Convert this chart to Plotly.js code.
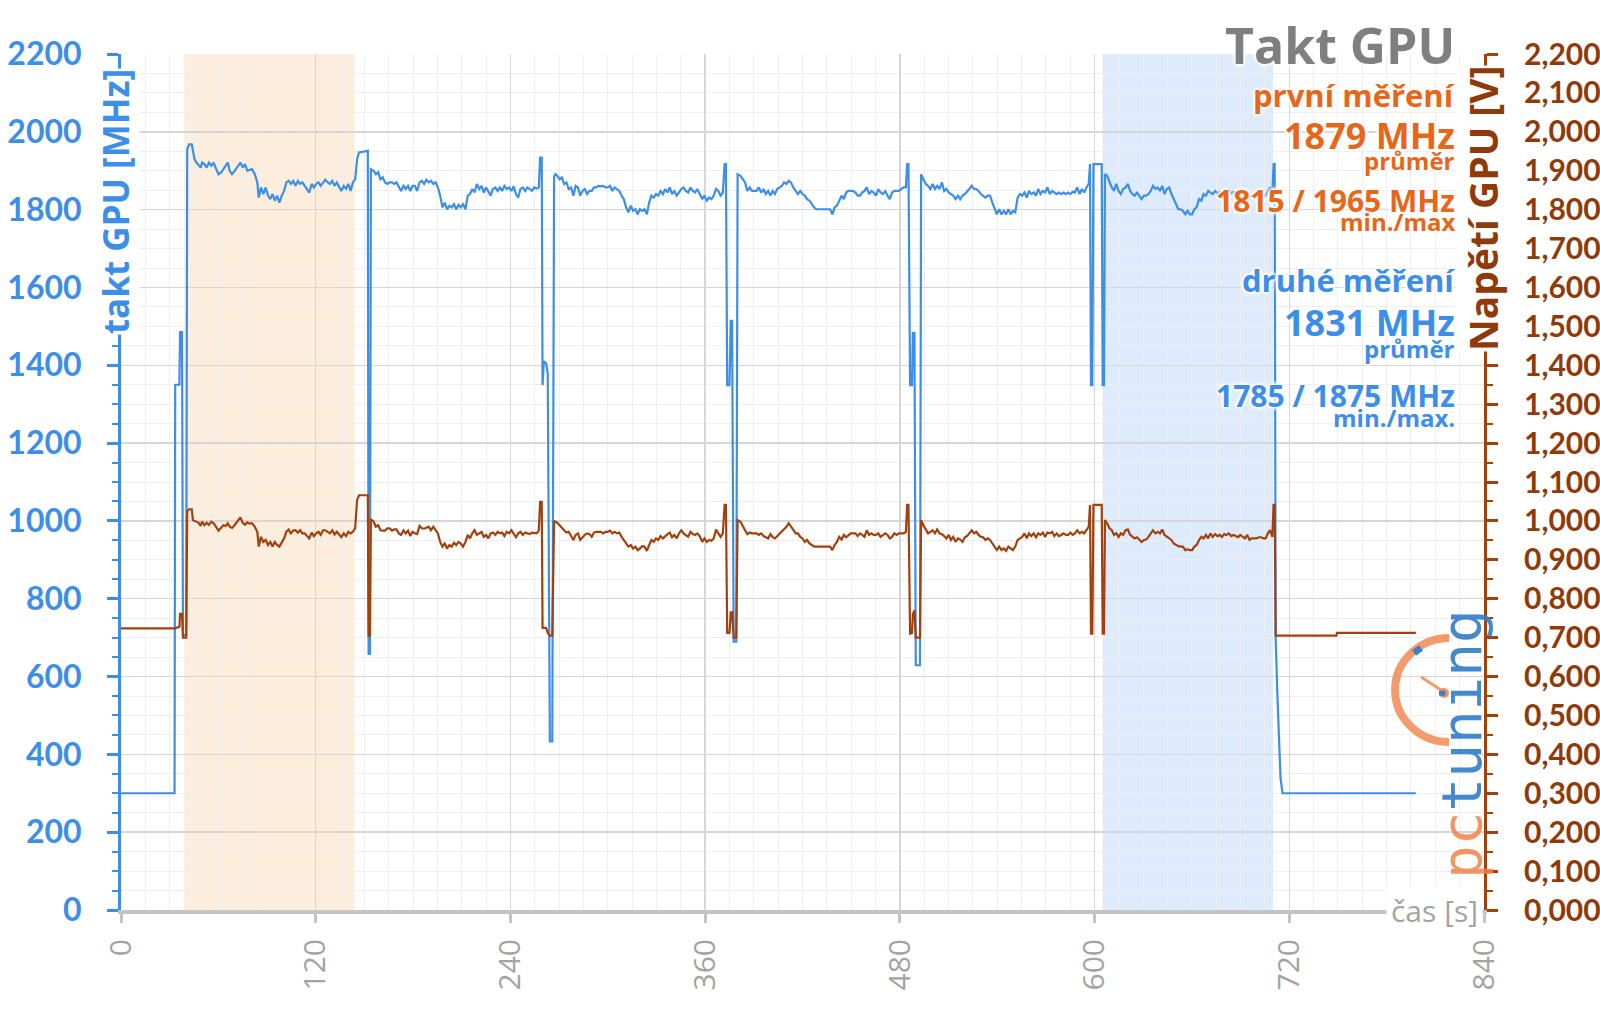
<!DOCTYPE html>
<html>
<head>
<meta charset="utf-8">
<script src="https://cdn.plot.ly/plotly-3.0.1.min.js"></script>
<style>
  html, body { margin: 0; padding: 0; background: #fff; }
  #graf { width: 1600px; height: 1009px; }
</style>
</head>
<body>
<div id="graf"></div>
<script>
// cas [s], takt GPU [MHz], napeti GPU [V]
var casS = [
  0, 33, 33.4, 36, 36.4, 37.6, 38.2, 40.2, 40.8, 42, 43.6,
  44.3, 45.3, 46.5, 47.9, 49.1, 50.0, 51.4, 52.8, 54.2, 55.7, 57.1, 58.5, 60.1, 61.8, 63.2, 64.6, 65.8, 67.0, 68.4, 69.6,
  70.8, 72.2, 73.6, 75.0, 76.4, 77.8, 79.2, 80.7, 82.5, 84.0, 84.9, 86.3, 87.7, 89.2, 90.6, 92.0, 93.4, 94.8, 96.2, 97.6,
  99.1, 100.5, 101.9, 103.3, 104.7, 106.1, 107.5, 109.0, 110.4, 111.8, 113.2, 114.6, 116.0, 117.5, 118.9, 120.3, 121.7,
  123.1, 124.5, 125.9, 127.4, 128.8, 130.2, 131.6, 133.0, 134.4, 135.8, 137.3, 138.7, 140.1, 141.5, 142.9, 144.3, 145.5,
  146.7, 152.1, 152.6, 153.4, 154.0,
  155.7, 157.1, 158.5, 159.9, 161.3, 162.7, 164.2, 165.6, 167.0, 168.4, 169.8, 171.2, 172.6, 174.1, 175.5, 176.9, 178.3,
  179.7, 181.1, 182.5, 184.0, 185.4, 186.8, 188.2, 189.6, 191.0, 192.5, 193.9, 195.3, 196.7, 198.1, 199.5, 200.9, 202.4,
  203.8, 205.2, 206.6, 208.0, 209.4, 210.8, 212.3, 213.7, 215.1, 216.5, 217.9, 219.3, 220.8, 222.2, 223.6, 225.0, 226.4,
  227.8, 229.2, 230.7, 232.1, 233.5, 234.9, 236.3, 237.7, 239.2, 240.6, 242.0, 243.4, 244.8, 246.2, 247.6, 249.1, 250.5,
  251.9, 253.3, 254.7, 256.1, 257.5,
  258.3, 259.3, 259.8, 260.6, 262.0, 263.0, 264.3, 265.8, 266.9,
  267.7, 268.9, 270.3, 271.7, 273.1, 274.5, 275.9, 277.4, 278.8, 280.2, 281.6, 283.0, 284.4, 285.8, 287.3, 288.7, 290.1,
  291.5, 292.9, 294.3, 295.8, 297.2, 298.6, 300.0, 301.4, 302.8, 304.2, 305.7, 307.1, 308.5, 309.9, 311.3, 312.7, 314.2,
  315.6, 317.0, 318.4, 319.8, 321.2, 322.6, 324.1, 325.5, 326.9, 328.3, 329.7, 331.1, 332.5, 334.0, 335.4, 336.8, 338.2,
  339.6, 341.0, 342.5, 343.9, 345.3, 346.7, 348.1, 349.5, 350.9, 352.4, 353.8, 355.2, 356.6, 358.2, 359.6, 361.0, 362.5,
  363.9, 365.3, 366.7, 368.1, 369.5, 370.9,
  372.0, 372.8, 373.6, 375.0, 375.8, 376.6, 377.6, 379.2, 380.0,
  381.8, 383.2, 384.6, 386.0, 387.5, 388.9, 390.3, 391.7, 393.1, 394.5, 396.0, 397.4, 398.8, 400.2, 401.6, 403.0, 404.4,
  405.9, 407.3, 408.7, 410.1, 411.5, 412.9, 414.3, 415.8, 417.2, 418.6, 420.0, 421.4, 422.8, 424.3, 425.7, 427.1, 428.5,
  437.0, 438.4, 439.8, 441.2, 442.6, 444.1, 445.5, 446.9, 448.3, 449.7, 451.1, 452.6, 454.0, 455.4, 456.8, 458.2, 459.6,
  461.0, 462.5, 463.9, 465.3, 466.7, 468.1, 469.5, 471.0, 472.4, 473.8, 475.2, 476.6, 478.0, 479.4, 480.9, 482.3, 483.7,
  484.5, 485.3, 486.3, 487.5, 488.0, 489.0, 489.8, 492.4, 493.1,
  494.5, 496.0, 497.4, 498.8, 500.2, 501.6, 503.0, 504.4, 505.9, 507.3, 508.7, 510.1, 511.5, 512.9, 514.3, 515.8, 517.2,
  518.6, 520.0, 521.4, 522.8, 524.3, 525.7, 527.1, 528.5, 529.9, 531.3, 532.7, 534.2, 535.6, 537.0, 538.4, 539.8, 541.2,
  542.6, 544.1, 545.5, 546.9, 548.3, 549.7, 551.1, 552.6, 554.0, 555.4, 556.8, 558.2, 559.6, 561.0, 562.5, 563.9, 565.3,
  566.7, 568.1, 569.5, 570.9, 572.4, 573.8, 575.2, 576.6, 578.0, 579.4, 580.9, 582.3, 583.7, 585.1, 586.5, 587.9, 589.3,
  590.8, 592.2, 593.6, 595.0, 596.4,
  597.2, 597.8, 598.6, 599.3, 604.4, 605.0, 605.8, 606.4,
  607.7, 609.2, 610.6, 612.0, 613.4, 614.8, 616.2, 617.6, 619.1, 620.5, 621.9, 623.3, 624.7, 626.1, 627.6, 629.0, 630.4,
  631.8, 633.2, 634.6, 636.0, 637.5, 638.9, 640.3, 641.7, 643.1, 644.5, 646.0, 647.4, 648.8, 650.2, 651.6, 653.0, 654.4,
  655.9, 657.3, 658.7, 660.1, 661.5, 662.9, 664.4, 665.8, 667.2, 668.6, 670.0, 671.4, 672.8, 674.3, 675.7, 677.1, 678.5,
  679.9, 681.3, 682.7, 684.2, 685.6, 687.0, 688.4, 689.8, 691.2, 692.7, 694.1, 695.5, 696.9, 698.3, 699.7, 701.1, 702.6,
  704.0, 705.4, 706.8, 708.2, 709.6,
  710.3, 711.0, 711.6, 712.6, 713.6, 714.6, 715.8, 749.0, 749.4, 798.0
];

var taktMHz = [
  300, 300, 1350, 1350, 1485, 1485, 707, 707, 1955, 1968, 1968,
  1947, 1930, 1921, 1914, 1908, 1921, 1917, 1908, 1921, 1913, 1921, 1906, 1891, 1896, 1904, 1913, 1921, 1900, 1891, 1897,
  1904, 1914, 1921, 1908, 1917, 1900, 1902, 1904, 1891, 1870, 1831, 1857, 1840, 1857, 1836, 1827, 1840, 1823, 1836, 1818,
  1836, 1848, 1870, 1874, 1866, 1874, 1861, 1874, 1866, 1870, 1861, 1853, 1844, 1866, 1857, 1866, 1870,
  1861, 1870, 1877, 1870, 1866, 1874, 1861, 1870, 1857, 1848, 1861, 1854, 1866, 1848, 1870, 1878, 1930,
  1947, 1951, 658, 658, 1904,
  1900, 1891, 1896, 1878, 1883, 1870, 1866, 1870, 1870, 1866, 1870, 1857, 1848, 1861, 1853, 1861, 1848,
  1861, 1861, 1848, 1870, 1874, 1866, 1877, 1870, 1874, 1866, 1870, 1857, 1836, 1806, 1818, 1801, 1810,
  1806, 1814, 1801, 1812, 1806, 1814, 1801, 1836, 1840, 1853, 1844, 1866, 1853, 1861, 1844, 1857, 1848,
  1836, 1853, 1857, 1848, 1857, 1848, 1861, 1853, 1857, 1848, 1860, 1840, 1831, 1853, 1857, 1848, 1857,
  1853, 1848, 1857, 1854, 1857,
  1934, 1934, 1349, 1410, 1405, 1380, 433, 433, 1885,
  1891, 1887, 1878, 1883, 1866, 1870, 1853, 1857, 1836, 1861, 1857, 1836, 1848, 1853, 1840, 1848, 1848,
  1857, 1857, 1861, 1860, 1861, 1857, 1857, 1861, 1848, 1857, 1853, 1848, 1836, 1827, 1806, 1793, 1810,
  1797, 1801, 1788, 1801, 1797, 1801, 1788, 1818, 1836, 1831, 1840, 1836, 1848, 1840, 1853, 1844, 1857,
  1840, 1848, 1836, 1844, 1853, 1857, 1848, 1844, 1857, 1848, 1844, 1853, 1840, 1827, 1836, 1823, 1831,
  1827, 1836, 1853, 1848, 1836, 1844,
  1917, 1917, 1349, 1349, 1514, 1514, 690, 690, 1891,
  1887, 1878, 1870, 1848, 1857, 1848, 1848, 1848, 1857, 1844, 1853, 1840, 1848, 1836, 1848, 1840, 1853,
  1857, 1861, 1870, 1866, 1874, 1870, 1857, 1848, 1840, 1848, 1840, 1836, 1827, 1823, 1814, 1806, 1801,
  1801, 1788, 1806, 1810, 1823, 1836, 1827, 1844, 1848, 1848, 1848, 1844, 1836, 1836, 1844, 1848, 1857,
  1840, 1848, 1844, 1836, 1853, 1844, 1840, 1848, 1836, 1827, 1844, 1848, 1848, 1848, 1853, 1857, 1857,
  1917, 1917, 1349, 1349, 1483, 1483, 629, 629, 1891,
  1878, 1866, 1861, 1853, 1866, 1853, 1861, 1853, 1870, 1848, 1853, 1844, 1840, 1836, 1827, 1836, 1827,
  1836, 1840, 1848, 1853, 1861, 1853, 1853, 1848, 1840, 1836, 1831, 1836, 1836, 1818, 1801, 1788, 1801,
  1788, 1797, 1788, 1801, 1788, 1797, 1793, 1831, 1840, 1836, 1844, 1831, 1848, 1840, 1844, 1836, 1853,
  1840, 1848, 1844, 1857, 1840, 1848, 1844, 1840, 1844, 1840, 1844, 1840, 1844, 1840, 1846, 1844, 1857,
  1840, 1853, 1844, 1857, 1866,
  1917, 1349, 1349, 1917, 1917, 1349, 1349, 1891,
  1887, 1870, 1857, 1848, 1866, 1848, 1840, 1853, 1857, 1866, 1848, 1840, 1836, 1844, 1836, 1827, 1836,
  1836, 1840, 1848, 1861, 1853, 1857, 1848, 1861, 1840, 1853, 1857, 1840, 1827, 1818, 1801, 1801, 1797,
  1788, 1797, 1788, 1788, 1801, 1806, 1827, 1823, 1840, 1836, 1848, 1844, 1840, 1848, 1842, 1846, 1840,
  1848, 1846, 1850, 1842, 1846, 1842, 1838, 1846, 1840, 1836, 1846, 1832, 1836, 1836, 1836, 1840, 1840,
  1836, 1836, 1848, 1857, 1840,
  1917, 1917, 700, 560, 420, 340, 300, 300, 300, 300
];

var napetiV = [
  0.724, 0.724, 0.724, 0.728, 0.761, 0.761, 0.700, 0.700, 1.025, 1.030, 1.030,
  1.002, 1.000, 0.998, 0.995, 0.987, 0.998, 0.989, 0.995, 0.990, 0.998, 0.994, 0.985, 0.975, 0.983, 0.989, 0.987, 0.994, 0.985, 0.982, 0.987,
  0.993, 1.003, 1.009, 0.995, 0.990, 0.996, 0.993, 0.994, 0.985, 0.972, 0.934, 0.959, 0.946, 0.951, 0.938, 0.946, 0.934, 0.946, 0.938, 0.934,
  0.946, 0.955, 0.972, 0.978, 0.968, 0.975, 0.976, 0.970, 0.976, 0.968, 0.968, 0.961, 0.955, 0.970, 0.961, 0.968, 0.972,
  0.964, 0.976, 0.976, 0.972, 0.968, 0.976, 0.965, 0.972, 0.964, 0.958, 0.968, 0.961, 0.972, 0.968, 0.972, 0.981, 1.054,
  1.066, 1.066, 0.705, 0.705, 1.004,
  0.998, 0.985, 0.989, 0.976, 0.975, 0.975, 0.981, 0.981, 0.975, 0.978, 0.978, 0.968, 0.964, 0.976, 0.968, 0.975, 0.961,
  0.972, 0.968, 0.966, 0.987, 0.981, 0.980, 0.983, 0.985, 0.976, 0.985, 0.976, 0.968, 0.946, 0.934, 0.942, 0.929, 0.938,
  0.934, 0.944, 0.938, 0.946, 0.942, 0.934, 0.946, 0.964, 0.955, 0.968, 0.976, 0.964, 0.968, 0.972, 0.959, 0.964, 0.955,
  0.968, 0.970, 0.964, 0.972, 0.968, 0.970, 0.961, 0.972, 0.968, 0.976, 0.966, 0.958, 0.968, 0.972, 0.964, 0.970, 0.968,
  0.966, 0.970, 0.968, 0.968, 0.975,
  1.049, 1.049, 0.725, 0.725, 0.725, 0.712, 0.705, 0.705, 1.000,
  0.998, 0.995, 0.989, 0.981, 0.976, 0.970, 0.972, 0.961, 0.951, 0.964, 0.968, 0.951, 0.959, 0.964, 0.968, 0.966, 0.959,
  0.970, 0.972, 0.972, 0.972, 0.968, 0.972, 0.972, 0.975, 0.968, 0.972, 0.968, 0.970, 0.959, 0.951, 0.942, 0.934, 0.938,
  0.929, 0.934, 0.925, 0.929, 0.935, 0.934, 0.923, 0.938, 0.951, 0.946, 0.955, 0.951, 0.961, 0.955, 0.961, 0.966, 0.970,
  0.958, 0.964, 0.955, 0.968, 0.976, 0.968, 0.964, 0.959, 0.972, 0.966, 0.964, 0.968, 0.961, 0.946, 0.955, 0.946, 0.951,
  0.949, 0.955, 0.978, 0.968, 0.959, 0.968,
  1.041, 1.041, 0.712, 0.712, 0.765, 0.765, 0.700, 0.700, 1.002,
  0.998, 0.985, 0.976, 0.966, 0.970, 0.968, 0.968, 0.968, 0.964, 0.968, 0.961, 0.959, 0.955, 0.966, 0.958, 0.955, 0.961,
  0.968, 0.975, 0.981, 0.985, 0.994, 0.985, 0.976, 0.968, 0.968, 0.959, 0.955, 0.946, 0.951, 0.942, 0.938, 0.934, 0.934,
  0.934, 0.925, 0.938, 0.946, 0.959, 0.952, 0.964, 0.958, 0.964, 0.968, 0.968, 0.968, 0.961, 0.968, 0.964, 0.959, 0.976,
  0.964, 0.968, 0.964, 0.964, 0.968, 0.959, 0.964, 0.968, 0.964, 0.955, 0.959, 0.968, 0.964, 0.968, 0.968, 0.968, 0.972,
  1.041, 1.041, 0.710, 0.712, 0.760, 0.770, 0.700, 0.700, 1.002,
  0.989, 0.976, 0.968, 0.972, 0.976, 0.968, 0.978, 0.968, 0.966, 0.961, 0.955, 0.964, 0.951, 0.959, 0.946, 0.955, 0.952,
  0.946, 0.958, 0.961, 0.968, 0.976, 0.968, 0.972, 0.964, 0.959, 0.958, 0.951, 0.955, 0.951, 0.942, 0.934, 0.925, 0.934,
  0.925, 0.929, 0.923, 0.934, 0.929, 0.925, 0.934, 0.951, 0.955, 0.959, 0.968, 0.955, 0.968, 0.961, 0.968, 0.958, 0.968,
  0.964, 0.970, 0.959, 0.970, 0.968, 0.972, 0.961, 0.968, 0.961, 0.964, 0.968, 0.964, 0.964, 0.970, 0.964, 0.968, 0.976,
  0.968, 0.972, 0.968, 0.976, 0.985,
  1.041, 0.710, 0.710, 1.041, 1.041, 0.710, 0.710, 1.002,
  0.994, 0.981, 0.976, 0.964, 0.968, 0.959, 0.968, 0.964, 0.976, 0.978, 0.964, 0.959, 0.955, 0.958, 0.952, 0.946, 0.951,
  0.952, 0.959, 0.968, 0.976, 0.968, 0.972, 0.968, 0.978, 0.964, 0.959, 0.955, 0.951, 0.942, 0.938, 0.935, 0.934, 0.934,
  0.925, 0.927, 0.925, 0.925, 0.934, 0.938, 0.951, 0.959, 0.955, 0.964, 0.955, 0.968, 0.959, 0.966, 0.961, 0.964, 0.959,
  0.966, 0.964, 0.968, 0.961, 0.964, 0.961, 0.958, 0.964, 0.959, 0.955, 0.964, 0.951, 0.955, 0.955, 0.955, 0.958, 0.958,
  0.955, 0.955, 0.968, 0.976, 0.959,
  1.041, 1.041, 0.705, 0.705, 0.705, 0.705, 0.705, 0.705, 0.712, 0.712
];

// zvyraznene useky (s)
var pasmoPrvni = [39, 144];
var pasmoDruhe = [605, 710];

var casTicks = [0, 120, 240, 360, 480, 600, 720, 840];

var modra = '#3d8ee8';
var hneda = '#a3410e';
var hnedaText = '#8e3a0b';
var oranzova = '#e8661a';
var sedaText = '#a3a3a3';
var glow = '0 0 3px #fff, 0 0 3px #fff, 0 0 3px #fff, 0 0 4px #fff, 0 0 4px #fff, 0 0 5px #fff';
var pismo = 'Open Sans, sans-serif';

var data = [
  {
    x: casS, y: taktMHz, type: 'scatter', mode: 'lines',
    line: {color: modra, width: 2.2},
    name: 'takt GPU', yaxis: 'y'
  },
  {
    x: casS, y: napetiV, type: 'scatter', mode: 'lines',
    line: {color: hneda, width: 2.2},
    name: 'napětí GPU', yaxis: 'y2'
  }
];

function txt(text, y, size, color) {
  return {
    text: text, xref: 'paper', yref: 'paper', x: 0.9802, y: y,
    xanchor: 'right', yanchor: 'middle', showarrow: false,
    font: {family: pismo, size: size, color: color, weight: 'bold', shadow: glow}
  };
}

var layout = {
  width: 1600, height: 1009,
  margin: {l: 121, r: 116, t: 54, b: 99},
  paper_bgcolor: '#fff', plot_bgcolor: '#fff',
  showlegend: false,
  separators: ', ',
  xaxis: {
    range: [0, 840], tickvals: casTicks, tickangle: -90,
    tickfont: {family: pismo, size: 30, color: sedaText},
    ticks: 'outside', ticklen: 9, tickwidth: 3, tickcolor: '#c4c4c4',
    ticklabelstandoff: 4,
    showline: true, linecolor: '#c4c4c4', linewidth: 4,
    showgrid: true, gridcolor: '#d6d6d6', gridwidth: 1.5, zeroline: false,
    minor: {dtick: 15, tick0: 0, showgrid: true, gridcolor: '#efefef', gridwidth: 1}
  },
  yaxis: {
    range: [0, 2200], dtick: 200, tick0: 0,
    tickfont: {family: 'Lato, sans-serif', size: 32, color: modra, weight: 'bold'},
    ticks: 'outside', ticklen: 11, tickwidth: 3, tickcolor: modra,
    ticklabelstandoff: 19,
    showline: true, linecolor: modra, linewidth: 3,
    showgrid: true, gridcolor: '#d6d6d6', gridwidth: 1.5, zeroline: false,
    minor: {dtick: 50, tick0: 0, ticks: 'outside', ticklen: 6, tickwidth: 2, tickcolor: modra,
            showgrid: true, gridcolor: '#efefef', gridwidth: 1}
  },
  yaxis2: {
    overlaying: 'y', side: 'right',
    range: [0, 2.2], dtick: 0.1, tick0: 0, tickformat: '.3f',
    tickfont: {family: 'Lato, sans-serif', size: 30, color: hnedaText, weight: 'bold'},
    ticks: 'outside', ticklen: 11, tickwidth: 3, tickcolor: hneda,
    ticklabelstandoff: 20,
    showline: true, linecolor: hneda, linewidth: 3,
    showgrid: false, zeroline: false,
    minor: {dtick: 0.05, tick0: 0, ticks: 'outside', ticklen: 6, tickwidth: 2, tickcolor: hneda, showgrid: false}
  },
  shapes: [
    {type: 'rect', xref: 'x', yref: 'paper', x0: pasmoPrvni[0], x1: pasmoPrvni[1], y0: 0, y1: 1,
     fillcolor: '#fdeddd', line: {width: 0}, layer: 'below'},
    {type: 'rect', xref: 'x', yref: 'paper', x0: pasmoDruhe[0], x1: pasmoDruhe[1], y0: 0, y1: 1,
     fillcolor: '#ddebfc', line: {width: 0}, layer: 'below'},
    // logo - oblouk budiku
    {type: 'path', xref: 'paper', yref: 'paper', xsizemode: 'pixel', ysizemode: 'pixel',
     xanchor: 0.9729, yanchor: 0.257,
     path: 'M 2,52 C -27,52 -52,29 -52,0 C -52,-29 -27,-52 2,-52',
     line: {color: 'rgba(240,138,84,0.85)', width: 8}, layer: 'above'},
    {type: 'path', xref: 'paper', yref: 'paper', xsizemode: 'pixel', ysizemode: 'pixel',
     xanchor: 0.9729, yanchor: 0.257,
     path: 'M -26,13 L -3,-2', line: {color: 'rgba(240,138,84,0.85)', width: 3}, layer: 'above'},
    {type: 'circle', xref: 'paper', yref: 'paper', xsizemode: 'pixel', ysizemode: 'pixel',
     xanchor: 0.9729, yanchor: 0.257, x0: -8, x1: 2, y0: -8, y1: 2,
     fillcolor: 'rgba(240,138,84,0.9)', line: {width: 0}, layer: 'above'},
    {type: 'path', xref: 'paper', yref: 'paper', xsizemode: 'pixel', ysizemode: 'pixel',
     xanchor: 0.9729, yanchor: 0.257,
     path: 'M -33,37 L -26,42', line: {color: 'rgba(47,124,199,0.9)', width: 7}, layer: 'above'}
  ],
  annotations: [
    txt('Takt GPU', 1.0105, 50, '#7f7f7f'),
    txt('první měření', 0.952, 31, oranzova),
    txt('1879 MHz', 0.905, 36, oranzova),
    txt('průměr', 0.876, 24, oranzova),
    txt('1815 / 1965 MHz', 0.8294, 30, oranzova),
    txt('min./max', 0.8043, 24, oranzova),
    txt('druhé měření', 0.736, 31, modra),
    txt('1831 MHz', 0.6863, 36, modra),
    txt('průměr', 0.6564, 24, modra),
    txt('1785 / 1875 MHz', 0.6016, 30, modra),
    txt('min./max.', 0.5754, 24, modra),
    // nazvy os
    {text: 'takt GPU [MHz]', xref: 'paper', yref: 'paper', x: -0.0044, y: 0.827,
     xanchor: 'center', yanchor: 'middle', textangle: -90, showarrow: false,
     bgcolor: '#fff', borderpad: 0,
     font: {family: pismo, size: 35, color: modra, weight: 'bold'}},
    {text: 'Napětí GPU [V]', xref: 'paper', yref: 'paper', x: 0.9993, y: 0.819,
     xanchor: 'center', yanchor: 'middle', textangle: -90, showarrow: false,
     bgcolor: '#fff', borderpad: 0,
     font: {family: pismo, size: 39, color: hnedaText, weight: 'bold'}},
    {text: 'čas [s]', xref: 'paper', yref: 'paper', x: 1, y: 0,
     xanchor: 'right', yanchor: 'middle', showarrow: false,
     bgcolor: '#fff', borderpad: 4, xshift: -1,
     font: {family: pismo, size: 30, color: sedaText}},
    // logo
    {text: '<span style="color:rgba(240,130,74,0.85)">pc</span><span style="color:rgba(47,124,199,0.9)">tuning</span>',
     xref: 'paper', yref: 'paper', x: 0.9839, y: 0.194,
     xanchor: 'center', yanchor: 'middle', textangle: -90, showarrow: false,
     font: {family: 'DejaVu Sans Mono, monospace', size: 56, color: '#2f7cc7'}}
  ]
};

Plotly.newPlot('graf', data, layout, {staticPlot: true, displayModeBar: false});
</script>
</body>
</html>
